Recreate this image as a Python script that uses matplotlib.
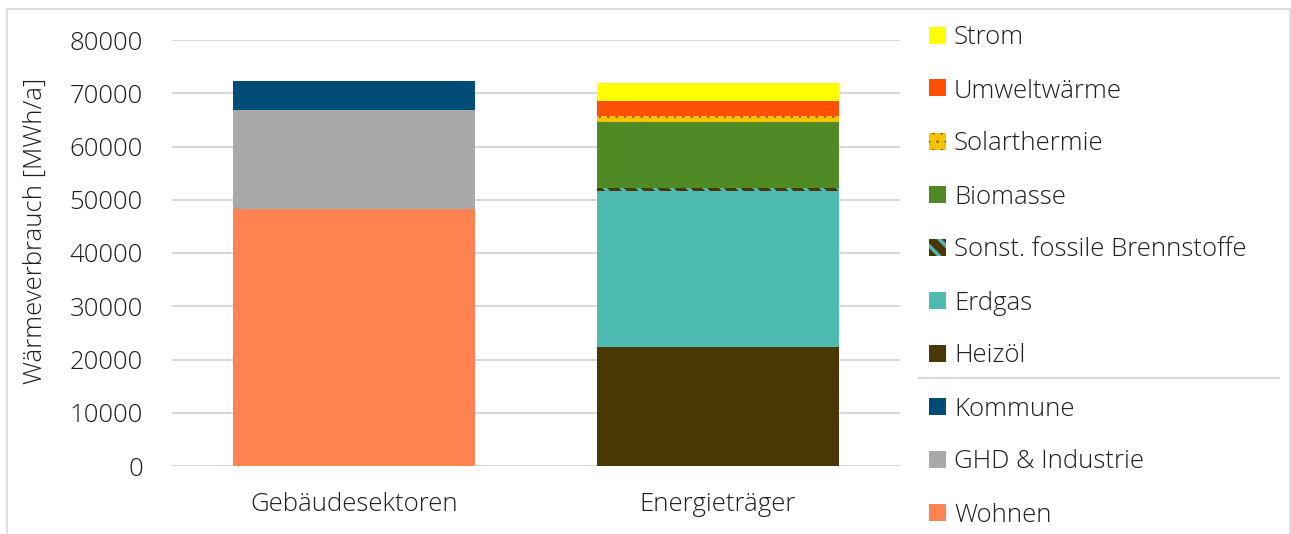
import matplotlib.pyplot as plt
from matplotlib.patches import Rectangle
from matplotlib.lines import Line2D

plt.rcParams['font.family'] = ['Open Sans', 'DejaVu Sans']
plt.rcParams['font.weight'] = 'light'
plt.rcParams['hatch.linewidth'] = 1.0

categories = ["Gebäudesektoren", "Energieträger"]

# Gebäudesektoren (bottom -> top)
sector_labels = ["Wohnen", "GHD & Industrie", "Kommune"]
sector_values = [48300, 18600, 5400]
sector_colors = ["#FF8351", "#A9A9A9", "#004C74"]

# Energieträger (bottom -> top)
carrier_labels = ["Heizöl", "Erdgas", "Sonst. fossile Brennstoffe", "Biomasse",
                  "Solarthermie", "Umweltwärme", "Strom"]
carrier_values = [22350, 29350, 500, 12400, 1100, 2800, 3400]
carrier_colors = ["#4A3705", "#4DBBB2", "#4A3705", "#4F8A24",
                  "#F5C400", "#FF5005", "#FFFF00"]
carrier_hatch = [None, None, "\\\\", None, "..", None, None]
carrier_hatch_color = [None, None, "#4DBBB2", None, "#A0522D", None, None]
hatch_lw = {"\\\\": 2.5, "..": 0.6}

yticks = [0, 10000, 20000, 30000, 40000, 50000, 60000, 70000, 80000]

FS = 18.5
TXT = "#1E1E1E"
W, H = 1291, 534
fig = plt.figure(figsize=(W / 100, H / 100), dpi=100)
ax = fig.add_axes([172 / W, (H - 466) / H, (900 - 172) / W, (466 - 40) / H])


def set_hlw(p, h):
    if h and hasattr(p, "set_hatch_linewidth"):
        p.set_hatch_linewidth(hatch_lw[h])


bw = 0.667
bottom = 0
for lab, val, col in zip(sector_labels, sector_values, sector_colors):
    ax.bar(0, val, bw, bottom=bottom, color=col, linewidth=0, zorder=3)
    bottom += val

bottom = 0
for lab, val, col, h, hc in zip(carrier_labels, carrier_values, carrier_colors,
                                carrier_hatch, carrier_hatch_color):
    if h:
        bars = ax.bar(1, val, bw, bottom=bottom, color=col, hatch=h, edgecolor=hc,
                      linewidth=0, zorder=3)
        for b in bars:
            set_hlw(b, h)
    else:
        ax.bar(1, val, bw, bottom=bottom, color=col, linewidth=0, zorder=3)
    bottom += val

ax.set_xlim(-0.5, 1.5)
ax.set_ylim(0, 80000)
ax.set_yticks(yticks)
ax.set_xticks([0, 1])
ax.set_xticklabels(categories)
ax.tick_params(axis='y', length=0, pad=21, labelsize=FS, labelcolor=TXT)
ax.tick_params(axis='x', length=0, pad=19, labelsize=FS, labelcolor=TXT)
ax.yaxis.grid(True, color="#D9D9D9", linewidth=1.5, zorder=0)
for s in ax.spines.values():
    s.set_visible(False)

fig.text(35 / W, 1 - 231 / H, "Wärmeverbrauch [MWh/a]", rotation=90,
         ha='center', va='center', fontsize=FS, color=TXT)

# legend, drawn top -> bottom
leg_labels = carrier_labels[::-1] + sector_labels[::-1]
leg_colors = carrier_colors[::-1] + sector_colors[::-1]
leg_hatch = carrier_hatch[::-1] + [None] * 3
leg_hcol = carrier_hatch_color[::-1] + [None] * 3
for i, (lab, col, h, hc) in enumerate(zip(leg_labels, leg_colors, leg_hatch, leg_hcol)):
    yc = 35 + 53 * i
    r = Rectangle((929 / W, 1 - (yc + 8.5) / H), 17 / W, 17 / H,
                  transform=fig.transFigure, facecolor=col,
                  hatch=h, edgecolor=hc if hc else col, linewidth=0)
    set_hlw(r, h)
    fig.add_artist(r)
    fig.text(954 / W, 1 - yc / H, lab, ha='left', va='center_baseline',
             fontsize=FS, color=TXT)

fig.add_artist(Line2D([919 / W, 1279 / W], [1 - 378 / H, 1 - 378 / H],
                      transform=fig.transFigure, color="#D9D9D9", linewidth=1.5))

# outer chart border
fig.add_artist(Rectangle((7 / W, -0.02), (1290 - 7) / W, 1 - 9 / H + 0.02,
                         transform=fig.transFigure, fill=False,
                         edgecolor="#D9D9D9", linewidth=1.2))

fig.savefig("out.png", dpi=100)
